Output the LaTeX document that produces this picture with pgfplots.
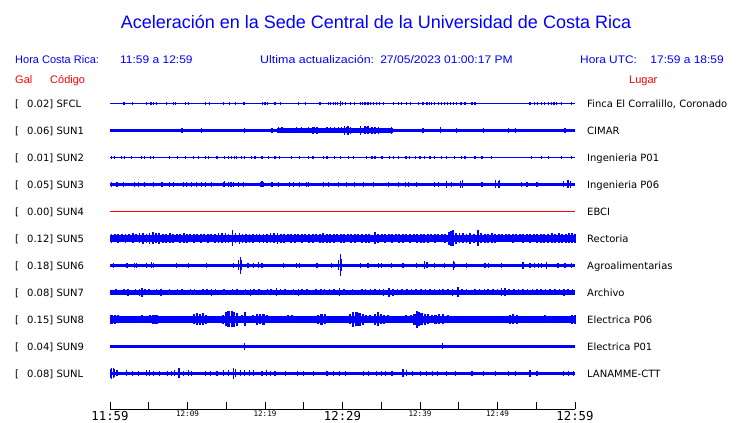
\documentclass[border=0pt]{standalone}
\usepackage{fontspec}
\setmainfont{Liberation Sans}
\newfontfamily\dejavu{DejaVu Sans}
\newfontfamily\monof{DejaVu Sans Mono}
\usepackage{graphicx}
\usepackage{pgfplots}
\usepackage{pgfplotstable}
\pgfplotsset{compat=1.18}
\definecolor{sblue}{RGB}{0,0,255}
\definecolor{sred}{RGB}{255,0,0}
\pgfplotsset{spk/.style={sblue, line width=1.2pt, -, line cap=butt, quiver={u=0, v=2*\thisrow{a}}}}
% spikes: t = minutes after 11:59, a = half height (px)
\pgfplotstableread[row sep=\\]{t a\\
1.8 1.8\\ 2.9 1.5\\ 4.7 1.5\\ 5.3 1.8\\ 5.6 1.8\\ 6.0 1.8\\ 7.3 1.5\\ 8.2 1.8\\ 8.5 1.8\\ 9.7 1.8\\ 10.1 1.8\\ 12.3 1.5\\ 12.8 1.8\\ 14.6 1.5\\ 15.4 1.5\\ 16.2 1.5\\ 17.3 1.5\\ 19.7 1.8\\ 20.0 1.5\\ 20.3 1.8\\ 21.3 1.5\\ 22.0 1.5\\ 24.3 1.5\\ 25.2 1.5\\ 27.1 1.5\\ 28.2 1.8\\ 28.5 1.8\\ 28.8 1.8\\ 29.1 1.8\\ 29.4 1.8\\ 29.7 2.2\\ 30.0 1.8\\ 30.4 1.8\\ 31.0 1.5\\ 31.5 1.5\\ 32.3 1.8\\ 32.6 1.8\\ 32.9 1.8\\ 33.3 1.8\\ 33.6 1.8\\ 34.0 1.8\\ 34.4 1.8\\ 34.8 1.8\\ 35.3 1.8\\ 36.6 1.5\\ 37.2 1.8\\ 37.6 1.5\\ 38.3 1.8\\ 38.8 1.5\\ 39.8 1.5\\ 40.4 1.5\\ 40.9 1.8\\ 41.2 1.8\\ 41.5 1.8\\ 41.9 1.8\\ 42.4 1.8\\ 42.8 1.8\\ 43.2 1.8\\ 43.5 1.8\\ 43.9 1.8\\ 44.3 1.8\\ 44.7 1.8\\ 45.3 1.8\\ 45.8 1.5\\ 46.7 1.5\\ 47.1 1.5\\ 54.2 1.5\\ 54.8 1.8\\ 55.2 1.8\\ 55.7 1.8\\ 56.1 1.8\\ 56.6 1.8\\ 57.0 1.8\\ 57.3 1.8\\ 57.6 1.8\\ 58.3 1.5\\ 59.5 1.5\\
}\sfcl
\pgfplotstableread[row sep=\\]{t a\\
9.3 2.2\\ 11.8 2.2\\ 17.4 2.2\\ 20.9 2.2\\ 21.7 3\\ 21.9 2.5\\ 22.2 3\\ 22.6 2.5\\ 24.1 3\\ 24.4 2.5\\ 24.7 3\\ 25.2 2.5\\ 25.6 3\\ 26.2 3.5\\ 26.4 3\\ 26.7 3.5\\ 28.0 3\\ 28.3 2.5\\ 28.5 3\\ 29.0 3\\ 29.5 3\\ 29.9 3\\ 30.3 4.5\\ 30.5 3\\ 30.7 4.5\\ 31.0 3.5\\ 31.6 2.5\\ 32.3 4.5\\ 32.9 4\\ 33.1 3\\ 33.3 4\\ 33.8 3.5\\ 34.2 3.5\\ 34.6 3.5\\ 35.5 2.5\\ 36.3 3.5\\ 40.4 2.2\\ 42.6 3\\ 44.7 2.5\\ 48.2 2.5\\ 51.4 2.2\\ 52.3 2.2\\ 58.7 2.2\\
}\sunone
\pgfplotstableread[row sep=\\]{t a\\
0.2 1.7\\ 0.6 1.7\\ 1.5 1.7\\ 1.9 1.7\\ 2.8 1.7\\ 4.1 1.7\\ 4.5 1.7\\ 5.2 1.7\\ 5.6 1.7\\ 7.7 1.7\\ 8.7 1.7\\ 9.7 1.7\\ 10.8 1.7\\ 11.4 1.7\\ 12.3 1.7\\ 12.7 1.7\\ 13.8 1.7\\ 14.8 1.7\\ 15.3 1.7\\ 15.7 1.7\\ 16.1 1.7\\ 16.3 1.7\\ 17.0 1.7\\ 17.4 1.7\\ 18.3 1.7\\ 18.7 1.7\\ 19.6 1.7\\ 20.4 1.7\\ 21.3 1.7\\ 21.9 1.7\\ 23.4 1.7\\ 24.5 1.7\\ 25.6 1.7\\ 26.2 1.7\\ 27.5 1.7\\ 28.0 1.7\\ 29.0 1.7\\ 29.7 1.7\\ 30.8 1.7\\ 31.4 1.7\\ 33.1 1.7\\ 33.8 1.7\\ 34.2 1.7\\ 35.1 1.7\\ 36.1 1.7\\ 36.6 1.7\\ 37.2 1.7\\ 38.1 1.7\\ 38.3 1.7\\ 38.6 1.7\\ 39.4 1.7\\ 40.0 1.7\\ 40.6 1.7\\ 41.3 1.7\\ 41.9 1.7\\ 42.8 1.7\\ 43.4 1.7\\ 44.5 1.7\\ 45.4 1.7\\ 45.8 1.7\\ 47.1 1.7\\ 48.0 1.7\\ 49.2 1.7\\ 54.4 1.7\\ 55.7 1.7\\ 56.6 1.7\\ 58.3 1.7\\ 59.6 1.7\\
}\suntwo
\pgfplotstableread[row sep=\\]{t a\\
0.2 2.8\\ 0.9 2.8\\ 1.7 2.8\\ 3.2 2.8\\ 3.7 2.8\\ 4.5 2.8\\ 5.6 2.8\\ 6.7 2.8\\ 7.7 2.8\\ 8.2 2.8\\ 9.5 2.8\\ 9.9 2.8\\ 10.5 2.8\\ 11.2 2.8\\ 11.8 2.8\\ 12.3 2.8\\ 13.1 2.8\\ 14.6 2.8\\ 14.8 3\\ 15.3 2.8\\ 15.6 2.8\\ 15.9 2.8\\ 16.6 2.8\\ 17.2 2.8\\ 19.4 2.8\\ 19.6 3\\ 19.8 2.8\\ 20.9 2.8\\ 21.7 2.8\\ 23.2 2.8\\ 23.7 2.8\\ 24.5 2.8\\ 25.4 2.8\\ 25.6 2.8\\ 27.5 2.8\\ 28.2 2.8\\ 29.5 2.8\\ 30.5 2.8\\ 31.6 2.8\\ 32.7 2.8\\ 34.0 2.8\\ 35.9 2.8\\ 37.2 2.8\\ 38.1 2.8\\ 38.5 2.8\\ 39.6 2.8\\ 41.9 2.8\\ 42.4 2.8\\ 43.4 3.5\\ 44.1 2.8\\ 45.2 3.5\\ 45.5 4\\ 48.0 2.8\\ 49.7 4\\ 50.1 3.5\\ 50.3 4\\ 53.1 2.8\\ 53.8 2.8\\ 55.1 2.8\\ 58.5 3\\ 59.1 4\\ 59.4 3.5\\
}\sunthree
\pgfplotstableread[row sep=\\]{t a\\
0.2 4.5\\ 0.6 4\\ 1.0 4.5\\ 1.5 4\\ 2.0 4.5\\ 2.5 4\\ 3.0 5\\ 3.4 4\\ 3.8 5\\ 4.3 5.5\\ 4.7 4.5\\ 5.1 5.5\\ 5.5 6\\ 5.9 5\\ 6.3 5.5\\ 6.8 4.5\\ 7.2 4.5\\ 7.7 5\\ 8.1 4.5\\ 8.6 4\\ 9.0 4.5\\ 9.5 5\\ 9.9 4.5\\ 10.3 4\\ 10.8 4.5\\ 11.2 4\\ 11.7 4.5\\ 12.1 4\\ 12.6 4.5\\ 13.0 4\\ 13.5 4.5\\ 14.0 5\\ 14.4 5\\ 14.9 5\\ 15.3 4.5\\ 15.8 8\\ 16.2 5\\ 16.7 5.5\\ 17.1 4.5\\ 17.5 4.5\\ 18.0 4.5\\ 18.4 4.5\\ 18.9 4\\ 19.3 4.5\\ 19.8 4.5\\ 20.3 4.5\\ 20.7 5\\ 21.2 5\\ 21.6 5.5\\ 22.1 4.5\\ 22.5 4.5\\ 23.0 4\\ 23.4 4.5\\ 23.9 4.5\\ 24.3 4\\ 24.8 4.5\\ 25.2 4\\ 25.7 4.5\\ 26.2 4.5\\ 26.6 4\\ 27.1 4.5\\ 27.5 5\\ 28.0 4.5\\ 28.4 4.5\\ 28.9 4.5\\ 29.3 4\\ 29.8 4.5\\ 30.2 4.5\\ 30.7 4\\ 31.1 4.5\\ 31.6 4.5\\ 32.0 4\\ 32.5 4.5\\ 33.0 4.5\\ 33.4 4.5\\ 34.2 6\\ 34.6 4.5\\ 35.1 4\\ 35.5 4.5\\ 36.0 4\\ 36.4 4.5\\ 36.9 4\\ 37.3 4.5\\ 37.8 4.5\\ 38.2 4\\ 38.7 4.5\\ 39.2 4\\ 39.6 4.5\\ 40.1 4.5\\ 40.5 4.5\\ 41.0 4.5\\ 41.4 4\\ 41.9 4.5\\ 42.3 4\\ 42.8 4\\ 43.2 4.5\\ 43.7 6.5\\ 44.0 7.5\\ 44.3 8\\ 44.6 5.5\\ 45.1 5\\ 45.5 5\\ 46.0 4.5\\ 46.5 5.5\\ 47.0 4.5\\ 47.5 8\\ 47.9 5\\ 48.4 4.5\\ 48.8 4.5\\ 49.3 5\\ 49.7 4.5\\ 50.2 4\\ 50.6 4\\ 51.1 4\\ 51.5 4\\ 52.0 4.5\\ 52.4 4\\ 52.9 4\\ 53.3 4.5\\ 53.8 4\\ 54.2 4.5\\ 54.7 4\\ 55.1 4.5\\ 55.6 4.5\\ 56.0 4.5\\ 56.5 4.5\\ 57.0 5\\ 57.4 4.5\\ 57.9 5\\ 58.3 4.5\\ 58.8 4.5\\ 59.2 5\\ 59.6 5\\ 60.0 4.5\\
}\sunfive
\pgfplotstableread[row sep=\\]{t a\\
0.4 2.5\\ 2.2 2.5\\ 3.2 2.5\\ 3.4 2.5\\ 4.7 2.2\\ 5.4 3\\ 5.6 2.5\\ 8.6 2.5\\ 10.1 2.2\\ 12.5 2.2\\ 15.9 2.5\\ 16.6 5\\ 16.8 8.5\\ 17.0 5\\ 17.8 2.5\\ 18.5 2.2\\ 19.2 3\\ 19.6 2.5\\ 22.4 2.2\\ 24.1 2.5\\ 24.4 2.5\\ 26.7 2.2\\ 28.6 2.2\\ 29.5 5\\ 29.7 11\\ 29.9 6\\ 32.3 2.2\\ 33.3 2.2\\ 34.6 2.5\\ 35.0 2.5\\ 36.3 2.2\\ 37.8 2.2\\ 39.6 2.2\\ 40.6 4\\ 40.9 3\\ 41.9 2.5\\ 43.2 2.5\\ 44.3 4.5\\ 44.5 3\\ 46.0 2.2\\ 48.4 2.5\\ 48.8 2.5\\ 50.5 2.2\\ 53.3 3.5\\ 54.2 2.2\\ 54.8 2.2\\ 55.3 2.2\\ 55.7 2.2\\ 56.3 3.5\\ 57.8 2.2\\ 58.7 2.2\\ 59.6 2.2\\
}\sunsix
\pgfplotstableread[row sep=\\]{t a\\
0.3 2.5\\ 0.8 3\\ 1.3 2.5\\ 1.8 3\\ 2.3 3.5\\ 2.8 2.5\\ 3.3 3\\ 3.8 3.5\\ 4.1 4.5\\ 4.5 3\\ 5.0 3\\ 5.5 2.5\\ 6.0 3\\ 6.6 3.5\\ 7.1 2.5\\ 7.7 3\\ 8.2 2.5\\ 8.7 3\\ 9.3 3\\ 9.8 2.5\\ 10.4 3\\ 10.9 3\\ 11.4 2.5\\ 12.0 3\\ 12.5 3\\ 13.1 3.5\\ 13.6 3\\ 14.2 2.5\\ 14.7 3\\ 15.3 2.5\\ 15.8 3\\ 16.4 3\\ 17.0 2.5\\ 17.5 3\\ 18.1 3.5\\ 18.6 3\\ 19.2 3\\ 19.7 2.5\\ 20.3 3\\ 20.8 3\\ 21.5 4\\ 22.0 3\\ 22.6 3\\ 23.2 2.5\\ 23.7 3\\ 24.3 3.5\\ 24.8 3\\ 25.4 3\\ 26.0 2.5\\ 26.6 3\\ 27.2 3\\ 27.7 3\\ 28.3 3\\ 28.9 3\\ 29.6 4\\ 30.2 3\\ 30.8 2.5\\ 31.3 3\\ 31.9 2.5\\ 32.5 3\\ 33.0 3\\ 33.6 3\\ 34.2 3\\ 34.8 3\\ 35.3 3.5\\ 36.0 4.5\\ 36.5 3.5\\ 37.1 3\\ 37.7 3\\ 38.3 3\\ 38.9 3\\ 39.5 3\\ 40.1 3\\ 40.7 3\\ 41.3 3\\ 41.9 3\\ 42.5 3\\ 43.0 3\\ 43.6 3\\ 44.2 3.5\\ 44.9 5\\ 45.4 3\\ 46.0 3\\ 46.6 2.5\\ 47.1 3\\ 47.7 3\\ 48.3 3\\ 48.8 3\\ 49.4 3\\ 50.0 3\\ 50.5 4\\ 51.0 4\\ 51.5 3\\ 52.1 3\\ 52.7 3\\ 53.3 3\\ 53.9 3\\ 54.5 3\\ 55.1 3\\ 55.6 3\\ 56.2 3\\ 56.8 3\\ 57.4 3\\ 58.0 3\\ 58.6 3.5\\ 59.1 3\\ 59.7 3\\
}\sunseven
\pgfplotstableread[row sep=\\]{t a\\
0.2 4.5\\ 0.6 4.5\\ 1.0 4\\ 1.5 3.5\\ 2.0 3.5\\ 2.5 3.5\\ 3.0 3.5\\ 3.5 3.5\\ 4.1 4\\ 4.7 3.5\\ 5.2 4\\ 5.6 4.5\\ 6.0 4.5\\ 6.5 3.5\\ 7.0 3.5\\ 7.6 3.5\\ 8.1 3.5\\ 8.7 3.5\\ 9.2 3.5\\ 9.8 3.5\\ 10.3 3.5\\ 10.8 5\\ 11.2 6\\ 11.6 5.5\\ 12.0 6\\ 12.4 4.5\\ 12.9 3.5\\ 13.5 3.5\\ 14.0 3.5\\ 14.6 4.5\\ 15.0 7\\ 15.3 8\\ 15.7 8\\ 16.0 7.5\\ 16.4 6.5\\ 17.0 4\\ 17.4 7\\ 17.9 3.5\\ 18.5 4\\ 19.0 5.5\\ 19.4 5\\ 19.8 5.5\\ 20.3 4\\ 20.8 3.5\\ 21.3 3.5\\ 21.8 3.5\\ 22.4 3.5\\ 23.0 4\\ 23.5 4\\ 24.0 3.5\\ 24.6 3.5\\ 25.1 3.5\\ 25.6 3.5\\ 26.1 3.5\\ 26.8 4.5\\ 27.3 5.5\\ 27.7 5\\ 28.2 3.5\\ 28.8 3.5\\ 29.4 3.5\\ 29.9 3.5\\ 30.5 3.5\\ 31.0 5\\ 31.4 7.5\\ 31.8 7\\ 32.2 6.5\\ 32.6 5.5\\ 33.0 4\\ 33.5 4\\ 34.2 5.5\\ 34.6 7\\ 35.0 5\\ 35.4 4.5\\ 35.9 4\\ 36.4 3.5\\ 37.0 3.5\\ 37.6 3.5\\ 38.2 4\\ 38.8 4\\ 39.3 5.5\\ 39.6 8.5\\ 39.9 7\\ 40.2 6\\ 40.6 5.5\\ 41.0 5\\ 41.5 4\\ 42.0 4.5\\ 42.5 5\\ 43.0 5\\ 43.6 4\\ 44.1 3.5\\ 44.6 3.5\\ 45.2 3.5\\ 45.8 3.5\\ 46.4 3.5\\ 47.0 3.5\\ 47.6 3.5\\ 48.2 3.5\\ 48.8 3.5\\ 49.3 3.5\\ 49.9 3.5\\ 50.4 3.5\\ 51.0 3.5\\ 51.6 4.5\\ 52.0 5\\ 52.5 4.5\\ 53.0 3.5\\ 53.5 3.5\\ 54.0 3.5\\ 54.6 3.5\\ 55.1 3.5\\ 55.6 3.5\\ 56.1 4\\ 56.6 3.5\\ 57.1 3.5\\ 57.6 3.5\\ 58.1 3.5\\ 58.6 3.5\\ 59.2 3.5\\ 59.6 4.5\\ 60.0 4.5\\
}\suneight
\pgfplotstableread[row sep=\\]{t a\\
3.2 1.8\\ 6.4 1.8\\ 17.4 3.5\\ 24.1 1.8\\ 27.1 1.8\\ 29.9 1.8\\ 36.8 1.8\\ 38.3 1.8\\ 42.9 3\\ 45.2 1.8\\ 45.4 1.8\\ 46.2 1.8\\ 47.5 1.8\\ 48.6 1.8\\ 49.7 1.8\\ 50.3 1.8\\ 51.2 1.8\\ 52.0 1.8\\ 53.8 1.8\\ 55.3 1.8\\ 57.4 1.8\\ 58.5 1.8\\ 59.6 1.8\\
}\sunnine
\pgfplotstableread[row sep=\\]{t a\\
0.05 4.5\\ 0.2 5.5\\ 0.4 5\\ 0.6 4\\ 0.9 3\\ 2.1 3\\ 2.9 2.5\\ 3.7 2.5\\ 4.7 3\\ 5.1 3\\ 5.6 2.5\\ 6.4 2.5\\ 7.4 2.5\\ 7.9 2.5\\ 8.3 3\\ 8.9 5\\ 9.5 2.5\\ 10.1 3\\ 10.5 2.5\\ 12.3 2.5\\ 13.0 2.5\\ 13.8 2.5\\ 14.6 3\\ 15.3 3\\ 15.9 5.5\\ 16.2 4\\ 16.8 3\\ 17.4 3\\ 18.0 3\\ 18.5 3\\ 19.6 2.5\\ 20.2 3\\ 20.7 2.5\\ 21.3 2.5\\ 22.6 2.5\\ 24.2 2.5\\ 25.0 2.5\\ 26.3 2.5\\ 28.0 2.5\\ 28.8 2.5\\ 29.6 2.5\\ 30.4 2.5\\ 32.7 2.5\\ 33.4 2.5\\ 34.4 2.5\\ 35.0 2.5\\ 35.6 2.5\\ 36.4 2.5\\ 37.8 4\\ 38.3 3\\ 39.0 2.5\\ 40.1 2.5\\ 40.8 2.5\\ 41.6 2.5\\ 42.3 2.5\\ 43.4 2.5\\ 44.6 2.5\\ 46.7 2.5\\ 48.2 2.5\\ 49.7 2.5\\ 51.4 2.5\\ 52.3 2.5\\ 54.2 3.5\\ 55.1 2.5\\ 58.5 2.5\\ 59.2 2.5\\ 59.8 2.5\\
}\sunl
\begin{document}
\begin{tikzpicture}
\path[use as bounding box] (0pt,0pt) rectangle (740pt,423pt);
\begin{axis}[
  at={(110pt,14pt)}, anchor=south west,
  width=465pt, height=319pt, scale only axis,
  xmin=0, xmax=60, ymin=14, ymax=333,
  axis x line*=bottom, axis y line=none,
  x axis line style={black, line width=0.9pt, -},
  xtick={0,5,...,60}, ytick=\empty,
  tick align=inside, major tick length=7pt,
  x tick style={black, line width=0.9pt},
  xticklabel style={anchor=north, inner sep=0pt, yshift=-2pt, text=black},
  xticklabels={{\monof\fontsize{12.3}{12.3}\selectfont 11:59},{},{\monof\fontsize{7.6}{7.6}\selectfont 12:09},{},{\monof\fontsize{7.6}{7.6}\selectfont 12:19},{},{\monof\fontsize{12.3}{12.3}\selectfont 12:29},{},{\monof\fontsize{7.6}{7.6}\selectfont 12:39},{},{\monof\fontsize{7.6}{7.6}\selectfont 12:49},{},{\monof\fontsize{12.3}{12.3}\selectfont 12:59}},
  clip=false]
% SFCL
\addplot[sblue, line width=1.1pt] coordinates {(0,319.5) (60,319.5)};
\addplot[spk] table[x=t, y expr=319.5-\thisrow{a}] {\sfcl};
% SUN1
\addplot[sblue, line width=3.2pt] coordinates {(0,292.5) (60,292.5)};
\addplot[sblue, line width=4.4pt] coordinates {(21.5,292.5) (36.5,292.5)};
\addplot[spk] table[x=t, y expr=292.5-\thisrow{a}] {\sunone};
% SUN2
\addplot[sblue, line width=1.1pt] coordinates {(0,265.5) (60,265.5)};
\addplot[spk] table[x=t, y expr=265.5-\thisrow{a}] {\suntwo};
% SUN3
\addplot[sblue, line width=3.8pt] coordinates {(0,238.5) (60,238.5)};
\addplot[spk] table[x=t, y expr=238.5-\thisrow{a}] {\sunthree};
% SUN4
\addplot[sred, line width=1pt] coordinates {(0,211.5) (60,211.5)};
% SUN5
\addplot[sblue, line width=7.2pt] coordinates {(0,184.5) (60,184.5)};
\addplot[spk, line width=1.8pt] table[x=t, y expr=184.5-\thisrow{a}] {\sunfive};
% SUN6
\addplot[sblue, line width=3.2pt] coordinates {(0,157.5) (60,157.5)};
\addplot[spk] table[x=t, y expr=157.5-\thisrow{a}] {\sunsix};
% SUN7
\addplot[sblue, line width=4.4pt] coordinates {(0,130.5) (60,130.5)};
\addplot[spk, line width=1.5pt] table[x=t, y expr=130.5-\thisrow{a}] {\sunseven};
% SUN8
\addplot[sblue, line width=6.6pt] coordinates {(0,103.5) (60,103.5)};
\addplot[spk, line width=2.2pt] table[x=t, y expr=103.5-\thisrow{a}] {\suneight};
% SUN9
\addplot[sblue, line width=3pt] coordinates {(0,76.5) (60,76.5)};
\addplot[spk] table[x=t, y expr=76.5-\thisrow{a}] {\sunnine};
% SUNL
\addplot[sblue, line width=3.4pt] coordinates {(0,49.5) (60,49.5)};
\addplot[spk] table[x=t, y expr=49.5-\thisrow{a}] {\sunl};
\end{axis}
% titles and labels
\node[anchor=base, text=sblue, font=\fontsize{18}{18}\selectfont, inner sep=0pt] at (376pt,394.5pt) {Aceleración en la Sede Central de la Universidad de Costa Rica};
\begin{scope}[every node/.style={inner sep=0pt, font=\fontsize{11}{11}\selectfont}]
\node[anchor=base west, text=sblue] at (15pt,359pt) {Hora Costa Rica:};
\node[anchor=base west, text=sblue] at (120pt,359pt) {\scalebox{1.09}[1]{11:59 a 12:59}};
\node[anchor=base west, text=sblue] at (260pt,359pt) {\scalebox{1.13}[1]{Ultima actualización:}};
\node[anchor=base east, text=sblue] at (513pt,359pt) {\scalebox{1.1}[1]{27/05/2023 01:00:17 PM}};
\node[anchor=base west, text=sblue] at (580pt,359pt) {\scalebox{1.08}[1]{Hora UTC:}};
\node[anchor=base east, text=sblue] at (724pt,359pt) {\scalebox{1.09}[1]{17:59 a 18:59}};
\node[anchor=base west, text=sred] at (15pt,339pt) {Gal};
\node[anchor=base west, text=sred] at (50pt,339pt) {Código};
\node[anchor=base west, text=sred] at (629pt,339pt) {Lugar};
\end{scope}
\foreach \v/\code/\place [count=\k from 0] in {0.02/SFCL/{Finca El Corralillo, Coronado}, 0.06/SUN1/CIMAR, 0.01/SUN2/Ingenieria P01, 0.05/SUN3/Ingenieria P06, 0.00/SUN4/EBCI, 0.12/SUN5/Rectoria, 0.18/SUN6/Agroalimentarias, 0.08/SUN7/Archivo, 0.15/SUN8/Electrica P06, 0.04/SUN9/Electrica P01, 0.08/SUNL/LANAMME-CTT}{
  \pgfmathsetmacro{\yb}{319.5-27*\k-3.6}
  \node[anchor=base west, inner sep=0pt, font=\dejavu\fontsize{10}{10}\selectfont] at (15pt,\yb pt) {[};
  \node[anchor=base west, inner sep=0pt, font=\dejavu\fontsize{10}{10}\selectfont] at (27pt,\yb pt) {\v]\ \code};
  \node[anchor=base west, inner sep=0pt, font=\dejavu\fontsize{10}{10}\selectfont] at (587pt,\yb pt) {\place};
}
\end{tikzpicture}
\end{document}
